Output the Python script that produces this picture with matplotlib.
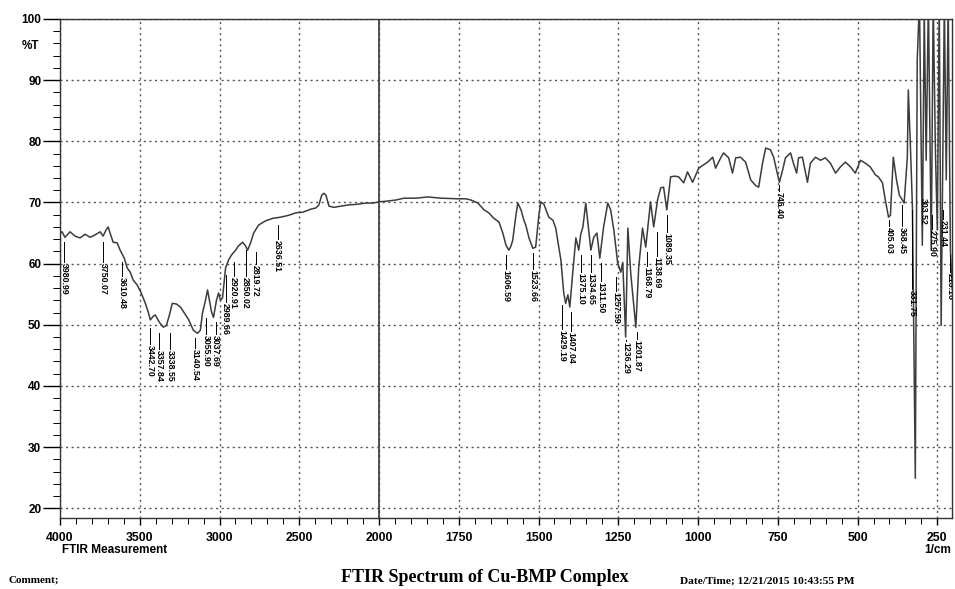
import numpy as np
import matplotlib
matplotlib.use("Agg")
import matplotlib.pyplot as plt
from matplotlib.ticker import FixedLocator, NullFormatter

# ---------------- data ----------------
wavenumber = [
    4000, 3987, 3969, 3937, 3906, 3874, 3843, 3811, 3780, 3748, 3730, 3711, 3698, 3686,
    3667, 3642, 3623, 3597, 3579, 3560, 3541, 3516, 3491, 3465, 3447, 3434, 3415, 3403,
    3377, 3352, 3333, 3314, 3296, 3270, 3245, 3220, 3195, 3164, 3138, 3120, 3107, 3088,
    3075, 3063, 3050, 3038, 3019, 3006, 2994, 2981, 2962, 2943, 2925, 2899, 2881, 2855,
    2837, 2824, 2805, 2786, 2755, 2711, 2667, 2616, 2566, 2522, 2478, 2428, 2396, 2377,
    2359, 2346, 2333, 2314, 2283, 2239, 2189, 2139, 2082, 2038, 2000,
    1978, 1947, 1922, 1884, 1847, 1806, 1753, 1728, 1712, 1690, 1671, 1656, 1640, 1624,
    1612, 1602, 1593, 1587, 1581, 1571, 1565, 1555, 1546, 1540, 1530, 1518, 1509, 1499,
    1493, 1483, 1468, 1455, 1446, 1440, 1430, 1421, 1415, 1408, 1402, 1393, 1383, 1374,
    1368, 1361, 1352, 1343, 1336, 1327, 1317, 1308, 1296, 1283, 1274, 1264, 1252, 1242,
    1236, 1227, 1220, 1211, 1195, 1186, 1174, 1164, 1149, 1139, 1127, 1117, 1108, 1098,
    1086, 1073, 1061, 1045, 1033, 1017, 998, 970, 954, 945, 929, 920, 904, 892, 882,
    867, 851, 835, 820, 810, 798, 788, 773, 763, 754, 745, 735, 726, 710, 701, 691, 685,
    673, 657, 648, 632, 616, 601, 585, 569, 554, 538, 522, 507, 491, 475, 460, 444, 435,
    422, 413, 403, 397, 388, 378, 369, 360, 354, 344, 341, 335, 328, 319, 313, 306, 297,
    291, 285, 278, 269, 263, 256, 250, 244, 238, 228, 222, 216, 209, 203,
]
transmittance = [
    65.0, 65.2, 64.3, 65.2, 64.5, 64.2, 64.8, 64.3, 64.7, 65.2, 64.5, 65.5, 66.0, 65.0,
    63.5, 63.4, 62.2, 60.9, 59.3, 58.6, 57.3, 56.5, 55.2, 53.5, 52.1, 50.8, 51.4, 51.6,
    50.4, 49.6, 49.9, 51.6, 53.5, 53.4, 52.9, 51.9, 50.9, 49.1, 48.6, 49.1, 51.9, 54.0,
    55.7, 54.0, 52.1, 51.2, 54.0, 55.2, 54.0, 54.4, 59.3, 60.6, 61.4, 62.2, 62.9, 63.5,
    62.9, 62.2, 63.4, 65.0, 66.3, 67.0, 67.4, 67.6, 67.9, 68.3, 68.4, 68.9, 69.1, 69.6,
    71.2, 71.5, 71.2, 69.4, 69.2, 69.4, 69.6, 69.7, 69.9, 69.9, 70.1,
    70.2, 70.4, 70.7, 70.7, 70.9, 70.7, 70.6, 70.6, 70.4, 69.9, 68.8, 68.3, 67.4, 66.8,
    65.0, 63.0, 62.2, 62.8, 63.8, 67.9, 69.9, 68.8, 67.1, 66.3, 64.2, 62.5, 62.7, 67.9,
    70.1, 69.7, 67.6, 67.1, 65.8, 63.8, 60.6, 55.2, 53.5, 54.9, 52.9, 58.4, 64.2, 62.2,
    64.7, 66.0, 69.9, 65.5, 62.2, 64.3, 65.0, 60.9, 66.0, 69.9, 68.8, 65.5, 60.1, 58.6,
    60.2, 48.0, 65.8, 58.4, 49.6, 59.4, 65.8, 62.7, 70.1, 66.0, 70.4, 72.4, 72.5, 68.8,
    74.2, 74.3, 74.2, 73.2, 75.0, 73.3, 75.6, 76.6, 77.4, 75.6, 77.3, 78.1, 77.3, 74.8, 77.3,
    77.4, 76.6, 73.7, 72.8, 72.5, 76.4, 78.9, 78.6, 77.4, 75.3, 73.3, 75.3, 77.3, 78.1, 76.4, 74.8, 77.3,
    77.4, 73.3, 76.4, 77.4, 76.9, 77.3, 76.4, 74.8, 75.8, 76.6, 75.8, 74.8, 76.9, 76.4, 75.8, 74.5, 74.2,
    73.2, 70.4, 67.6, 67.9, 77.4, 73.7, 71.2, 70.4, 69.9, 77.4, 88.4, 80.2, 69.2, 24.9, 93.3, 103.0, 63.0,
    101.5, 76.9, 103.0, 62.2, 103.0, 78.6, 65.5, 103.0, 49.9, 103.0, 73.7, 103.0, 62.2, 55.7,
]

peak_labels = [
    "3980.99", "3750.07", "3610.48", "3442.70", "3357.84", "3338.55", "3140.54",
    "3055.90", "3037.69", "2989.66", "2920.91", "2850.02", "2819.72", "2636.51",
    "1606.59", "1523.66", "1429.19", "1407.04", "1375.10", "1334.65", "1311.50",
    "1257.59", "1236.29", "1201.87", "1168.79", "1138.69", "1089.35", "746.40",
    "405.03", "368.45", "331.75", "303.52", "275.90", "231.44", "213.16",
]
# where each label is printed (wavenumber) and its leader line (%T from -> to)
label_x = [
    3975, 3730, 3610, 3434, 3377, 3308, 3151, 3085, 3025, 2962, 2912, 2837, 2774, 2635,
    1602, 1518, 1427, 1399, 1368, 1336, 1305, 1258, 1227, 1192, 1161, 1130, 1098, 745,
    400, 360, 328, 294, 266, 231, 209,
]
leader_from = [
    63.5, 63.5, 60.2, 49.4, 48.6, 48.6, 47.8, 51.1, 50.4, 58.1, 60.2, 62.2, 61.9, 66.3,
    61.4, 61.7, 53.2, 52.1, 61.4, 61.4, 60.1, 57.8, 47.5, 48.8, 61.9, 65.2, 67.9, 72.8,
    67.1, 69.6, 68.8, 70.7, 68.0, 68.8, 61.4,
]
label_top = [
    60.1, 60.1, 57.8, 46.7, 45.9, 45.9, 46.0, 48.3, 48.3, 53.6, 57.8, 57.8, 59.7, 63.8,
    58.9, 58.9, 49.1, 48.8, 58.4, 58.4, 57.0, 55.3, 47.2, 47.5, 59.4, 61.0, 65.0, 71.7,
    66.0, 66.0, 55.7, 70.7, 65.5, 67.1, 58.4,
]

x_major = [4000, 3500, 3000, 2500, 2000, 1750, 1500, 1250, 1000, 750, 500, 250]
y_major = [20, 30, 40, 50, 60, 70, 80, 90, 100]


# ---------------- scale: 4000-2000 compressed by 2 ----------------
def fwd(w):
    w = np.asarray(w, dtype=float)
    return np.where(w > 2000, 2000 + (w - 2000) / 2.0, w)


def inv(u):
    u = np.asarray(u, dtype=float)
    return np.where(u > 2000, 2000 + (u - 2000) * 2.0, u)


W, H = 955, 589
fig = plt.figure(figsize=(W / 100, H / 100), dpi=100)
fig.patch.set_facecolor("white")
ax = fig.add_axes([60 / W, 1 - 518 / H, (952 - 60) / W, (518 - 19) / H])
ax.set_xscale("function", functions=(fwd, inv))
ax.set_xlim(4000, 204)
ax.set_ylim(18.4, 100)

sans = "Liberation Sans"
serif = "Liberation Serif"

# grid
for xv in x_major:
    ax.axvline(xv, color="#555555", lw=1.0, ls=(0, (1.5, 2.5)), zorder=1)
for yv in y_major:
    ax.axhline(yv, color="#555555", lw=1.0, ls=(0, (1.5, 2.5)), zorder=1)
ax.axvline(2000, color="#444444", lw=1.3, zorder=1.5)

# spectrum
ax.plot(wavenumber, transmittance, color="#3c3c3c", lw=1.1, zorder=3)

# peak labels
for txt, xp, y0, y1 in zip(peak_labels, label_x, leader_from, label_top):
    if y0 > y1:
        ax.plot([xp, xp], [y0, y1 + 0.2], color="black", lw=0.7, zorder=4)
    ax.text(xp, y1, txt, rotation=270, ha="center", va="top", fontsize=6.3,
            fontweight="bold", family=sans, zorder=5, clip_on=True)

# ticks
ax.xaxis.set_major_locator(FixedLocator(x_major))
minor_x = list(np.arange(4000, 2000, -100)) + list(np.arange(2000, 200, -50))
ax.xaxis.set_minor_locator(FixedLocator(minor_x))
ax.xaxis.set_minor_formatter(NullFormatter())
ax.set_xticklabels([str(v) for v in x_major], fontsize=8.8, fontweight="bold", family=sans)
ax.yaxis.set_major_locator(FixedLocator(y_major))
ax.yaxis.set_minor_locator(FixedLocator(list(np.arange(20, 100, 2))))
ax.yaxis.set_minor_formatter(NullFormatter())
ax.set_yticklabels([str(v) for v in y_major], fontsize=8.5, fontweight="bold", family=sans)
ax.tick_params(axis="y", which="major", direction="out", length=12, width=1.0, pad=1.5)
ax.tick_params(axis="y", which="minor", direction="out", length=5, width=0.7)
ax.tick_params(axis="x", which="major", direction="out", length=5, width=1.0, pad=5)
ax.tick_params(axis="x", which="minor", direction="out", length=4, width=0.7)

for s in ax.spines.values():
    s.set_color("#333333")
    s.set_linewidth(1.0)

# annotations
fig.text(22 / W, 1 - 46 / H, "%T", fontsize=8.5, fontweight="bold", family=sans,
         ha="left", va="center")
fig.text(62 / W, 1 - 550 / H, "FTIR Measurement", fontsize=8.5, fontweight="bold",
         family=sans, ha="left", va="center")
fig.text(951 / W, 1 - 550 / H, "1/cm", fontsize=8.5, fontweight="bold",
         family=sans, ha="right", va="center")
fig.text(8 / W, 1 - 580 / H, "Comment;", fontsize=8, fontweight="bold",
         family=serif, ha="left", va="center")
fig.text(485 / W, 1 - 577 / H, "FTIR Spectrum of Cu-BMP Complex", fontsize=13,
         fontweight="bold", family=serif, ha="center", va="center")
fig.text(680 / W, 1 - 581 / H, "Date/Time; 12/21/2015 10:43:55 PM", fontsize=8.2,
         fontweight="bold", family=serif, ha="left", va="center")

fig.savefig("out.png", dpi=100, facecolor="white")
